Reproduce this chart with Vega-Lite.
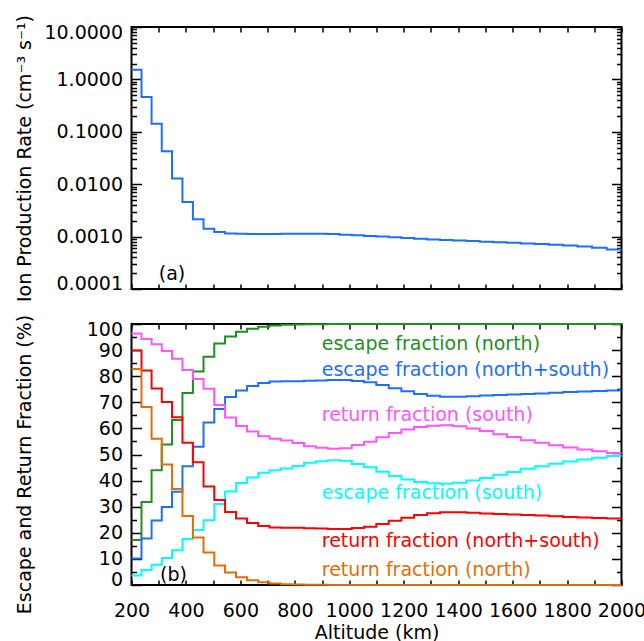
{
  "$schema": "https://vega.github.io/schema/vega-lite/v6.json",
  "padding": {"left": 13.5, "top": 13, "right": 0, "bottom": 0},
  "spacing": 10,
  "datasets": {
    "bins": [
      {"x": 200, "ion": 1.53, "en": 17.2, "ens": 10.2, "rs": 96.4, "es": 3.6, "rns": 89.8, "rn": 82.8},
      {"x": 236.7, "ion": 0.461, "en": 31.8, "ens": 17.8, "rs": 94.3, "es": 5.7, "rns": 82.2, "rn": 68.2},
      {"x": 273.7, "ion": 0.143, "en": 44.0, "ens": 24.7, "rs": 92.2, "es": 7.8, "rns": 75.3, "rn": 56.0},
      {"x": 311.1, "ion": 0.0424, "en": 53.8, "ens": 29.9, "rs": 89.7, "es": 10.3, "rns": 70.1, "rn": 46.2},
      {"x": 348.9, "ion": 0.0128, "en": 63.2, "ens": 35.7, "rs": 86.7, "es": 13.3, "rns": 64.3, "rn": 36.8},
      {"x": 387.1, "ion": 0.00457, "en": 73.6, "ens": 45.5, "rs": 82.4, "es": 17.6, "rns": 54.5, "rn": 26.4},
      {"x": 425.6, "ion": 0.00214, "en": 81.8, "ens": 53.0, "rs": 78.9, "es": 21.1, "rns": 47.0, "rn": 18.2},
      {"x": 464.6, "ion": 0.00141, "en": 87.5, "ens": 62.3, "rs": 75.2, "es": 24.8, "rns": 37.7, "rn": 12.5},
      {"x": 504.0, "ion": 0.00123, "en": 92.5, "ens": 67.4, "rs": 69.0, "es": 31.0, "rns": 32.6, "rn": 7.5},
      {"x": 543.7, "ion": 0.00115, "en": 95.2, "ens": 72.0, "rs": 64.2, "es": 35.8, "rns": 28.0, "rn": 4.8},
      {"x": 583.9, "ion": 0.00113, "en": 97.0, "ens": 74.5, "rs": 60.9, "es": 39.1, "rns": 25.5, "rn": 3.0},
      {"x": 624.5, "ion": 0.00112, "en": 98.2, "ens": 76.2, "rs": 58.8, "es": 41.2, "rns": 23.8, "rn": 1.8},
      {"x": 665.5, "ion": 0.00112, "en": 98.9, "ens": 77.4, "rs": 57.0, "es": 43.0, "rns": 22.6, "rn": 1.1},
      {"x": 706.9, "ion": 0.00112, "en": 99.4, "ens": 78.0, "rs": 56.0, "es": 44.0, "rns": 22.0, "rn": 0.6},
      {"x": 748.7, "ion": 0.00113, "en": 99.7, "ens": 78.1, "rs": 55.4, "es": 44.6, "rns": 21.9, "rn": 0.3},
      {"x": 791.0, "ion": 0.00113, "en": 99.8, "ens": 78.1, "rs": 54.4, "es": 45.6, "rns": 21.9, "rn": 0.2},
      {"x": 833.7, "ion": 0.00113, "en": 99.9, "ens": 78.3, "rs": 53.2, "es": 46.8, "rns": 21.7, "rn": 0.1},
      {"x": 876.8, "ion": 0.00113, "en": 99.9, "ens": 78.4, "rs": 52.6, "es": 47.4, "rns": 21.6, "rn": 0.1},
      {"x": 920.4, "ion": 0.00112, "en": 100, "ens": 78.5, "rs": 52.2, "es": 47.8, "rns": 21.5, "rn": 0},
      {"x": 964.4, "ion": 0.00109, "en": 100, "ens": 78.5, "rs": 52.4, "es": 47.6, "rns": 21.5, "rn": 0},
      {"x": 1008.9, "ion": 0.00106, "en": 100, "ens": 78.2, "rs": 53.6, "es": 46.4, "rns": 21.8, "rn": 0},
      {"x": 1053.8, "ion": 0.00103, "en": 100, "ens": 77.7, "rs": 54.9, "es": 45.1, "rns": 22.3, "rn": 0},
      {"x": 1099.2, "ion": 0.00100, "en": 100, "ens": 76.6, "rs": 56.6, "es": 43.4, "rns": 23.4, "rn": 0},
      {"x": 1145.0, "ion": 0.00097, "en": 100, "ens": 75.4, "rs": 58.2, "es": 41.8, "rns": 24.6, "rn": 0},
      {"x": 1191.3, "ion": 0.00094, "en": 100, "ens": 74.2, "rs": 59.6, "es": 40.4, "rns": 25.8, "rn": 0},
      {"x": 1238.1, "ion": 0.00091, "en": 100, "ens": 73.2, "rs": 60.5, "es": 39.5, "rns": 26.8, "rn": 0},
      {"x": 1285.4, "ion": 0.00088, "en": 100, "ens": 72.5, "rs": 61.0, "es": 39.0, "rns": 27.5, "rn": 0},
      {"x": 1333.1, "ion": 0.00086, "en": 100, "ens": 72.1, "rs": 61.2, "es": 38.8, "rns": 27.9, "rn": 0},
      {"x": 1381.4, "ion": 0.00084, "en": 100, "ens": 72.1, "rs": 60.8, "es": 39.2, "rns": 27.9, "rn": 0},
      {"x": 1430.1, "ion": 0.00082, "en": 100, "ens": 72.3, "rs": 60.0, "es": 40.0, "rns": 27.7, "rn": 0},
      {"x": 1479.3, "ion": 0.00080, "en": 100, "ens": 72.6, "rs": 59.0, "es": 41.0, "rns": 27.4, "rn": 0},
      {"x": 1529.0, "ion": 0.00078, "en": 100, "ens": 72.8, "rs": 57.8, "es": 42.2, "rns": 27.2, "rn": 0},
      {"x": 1579.3, "ion": 0.00076, "en": 100, "ens": 73.0, "rs": 56.7, "es": 43.3, "rns": 27.0, "rn": 0},
      {"x": 1630.0, "ion": 0.00074, "en": 100, "ens": 73.2, "rs": 55.5, "es": 44.5, "rns": 26.8, "rn": 0},
      {"x": 1681.3, "ion": 0.00072, "en": 100, "ens": 73.4, "rs": 54.5, "es": 45.5, "rns": 26.6, "rn": 0},
      {"x": 1733.1, "ion": 0.00070, "en": 100, "ens": 73.7, "rs": 53.5, "es": 46.5, "rns": 26.3, "rn": 0},
      {"x": 1785.4, "ion": 0.00068, "en": 100, "ens": 73.9, "rs": 52.7, "es": 47.3, "rns": 26.1, "rn": 0},
      {"x": 1838.2, "ion": 0.00065, "en": 100, "ens": 74.1, "rs": 51.9, "es": 48.1, "rns": 25.9, "rn": 0},
      {"x": 1891.6, "ion": 0.00061, "en": 100, "ens": 74.3, "rs": 51.2, "es": 48.8, "rns": 25.7, "rn": 0},
      {"x": 1945.5, "ion": 0.00057, "en": 100, "ens": 74.5, "rs": 50.6, "es": 49.4, "rns": 25.5, "rn": 0},
      {"x": 2000, "ion": 0.00057, "en": 100, "ens": 74.5, "rs": 50.6, "es": 49.4, "rns": 25.5, "rn": 0}
    ],
    "notes": [
      {"tx": 899, "ty": 92.4, "s": "en", "t": "escape fraction (north)"},
      {"tx": 899, "ty": 82.2, "s": "ens", "t": "escape fraction (north+south)"},
      {"tx": 899, "ty": 65.3, "s": "rs", "t": "return fraction (south)"},
      {"tx": 899, "ty": 35.2, "s": "es", "t": "escape fraction (south)"},
      {"tx": 899, "ty": 17.0, "s": "rns", "t": "return fraction (north+south)"},
      {"tx": 899, "ty": 5.8, "s": "rn", "t": "return fraction (north)"}
    ],
    "panelA": [{"tx": 300, "ty": 0.000196, "t": "(a)"}],
    "panelB": [{"tx": 305, "ty": 3.8, "t": "(b)"}]
  },
  "resolve": {"scale": {"x": "independent", "y": "independent", "color": "independent"}},
  "vconcat": [
    {
      "width": 490,
      "height": 262,
      "data": {"name": "bins"},
      "resolve": {"axis": {"x": "independent", "y": "independent"}},
      "layer": [
        {
          "mark": {"type": "line", "interpolate": "step-after", "color": "#1e6eff", "strokeWidth": 2},
          "encoding": {
            "x": {"field": "x", "type": "quantitative", "scale": {"domain": [200, 2000], "nice": false, "zero": false}, "axis": null},
            "y": {"field": "ion", "type": "quantitative", "scale": {"type": "log", "domain": [0.0001, 10], "nice": false},
              "axis": {"orient": "left", "values": [0.0001, 0.001, 0.01, 0.1, 1, 10], "format": ".4f", "labelPadding": 9, "ticks": false, "tickSize": 0, "labelFlush": true, "labelFlushOffset": 4,
                "title": "Ion Production Rate (cm⁻³ s⁻¹)", "titleX": -107, "titleY": 131, "titleBaseline": "middle", "titleAngle": -90}}
          }
        },
        {
          "mark": {"type": "point", "opacity": 0},
          "encoding": {
            "x": {"field": "x", "type": "quantitative", "axis": {"orient": "bottom", "values": [200,300,400,500,600,700,800,900,1000,1100,1200,1300,1400,1500,1600,1700,1800,1900,2000], "labels": false, "tickSize": -5, "title": null}},
            "y": {"field": "ion", "type": "quantitative", "axis": {"orient": "left", "values": [0.0001, 0.001, 0.01, 0.1, 1, 10], "labels": false, "tickSize": -10, "title": null}}
          }
        },
        {
          "mark": {"type": "point", "opacity": 0},
          "encoding": {
            "x": {"field": "x", "type": "quantitative", "axis": {"orient": "top", "values": [200,300,400,500,600,700,800,900,1000,1100,1200,1300,1400,1500,1600,1700,1800,1900,2000], "labels": false, "tickSize": -5, "title": null}},
            "y": {"field": "ion", "type": "quantitative", "axis": {"orient": "left", "values": [0.0002,0.0003,0.0004,0.0005,0.0006,0.0007,0.0008,0.0009,0.002,0.003,0.004,0.005,0.006,0.007,0.008,0.009,0.02,0.03,0.04,0.05,0.06,0.07,0.08,0.09,0.2,0.3,0.4,0.5,0.6,0.7,0.8,0.9,2,3,4,5,6,7,8,9], "labels": false, "tickSize": -5, "title": null}}
          }
        },
        {
          "mark": {"type": "point", "opacity": 0},
          "encoding": {
            "x": {"field": "x", "type": "quantitative", "axis": null},
            "y": {"field": "ion", "type": "quantitative", "axis": {"orient": "right", "values": [0.0001, 0.001, 0.01, 0.1, 1, 10], "labels": false, "tickSize": -10, "title": null}}
          }
        },
        {
          "mark": {"type": "point", "opacity": 0},
          "encoding": {
            "x": {"field": "x", "type": "quantitative", "axis": null},
            "y": {"field": "ion", "type": "quantitative", "axis": {"orient": "right", "values": [0.0002,0.0003,0.0004,0.0005,0.0006,0.0007,0.0008,0.0009,0.002,0.003,0.004,0.005,0.006,0.007,0.008,0.009,0.02,0.03,0.04,0.05,0.06,0.07,0.08,0.09,0.2,0.3,0.4,0.5,0.6,0.7,0.8,0.9,2,3,4,5,6,7,8,9], "labels": false, "tickSize": -5, "title": null}}
          }
        },
        {
          "data": {"name": "panelA"},
          "mark": {"type": "text", "align": "left", "baseline": "middle", "fontSize": 19, "color": "black"},
          "encoding": {
            "x": {"field": "tx", "type": "quantitative", "axis": null},
            "y": {"field": "ty", "type": "quantitative", "axis": null},
            "text": {"field": "t"}
          }
        }
      ]
    },
    {
      "width": 490,
      "height": 261,
      "data": {"name": "bins"},
      "resolve": {"axis": {"x": "independent", "y": "independent"}},
      "layer": [
        {
          "transform": [{"fold": ["en", "ens", "rs", "es", "rns", "rn"], "as": ["s", "v"]}],
          "mark": {"type": "line", "interpolate": "step-after", "strokeWidth": 2},
          "encoding": {
            "x": {"field": "x", "type": "quantitative", "scale": {"domain": [200, 2000], "nice": false, "zero": false},
              "axis": {"orient": "bottom", "values": [200,400,600,800,1000,1200,1400,1600,1800,2000], "format": "d", "ticks": false, "tickSize": 0, "labelPadding": 16, "labelFlush": false,
                "title": "Altitude (km)", "titleY": 38}},
            "y": {"field": "v", "type": "quantitative", "scale": {"domain": [0, 100], "nice": false, "zero": false},
              "axis": {"orient": "left", "values": [0,10,20,30,40,50,60,70,80,90,100], "labelPadding": 9, "ticks": false, "tickSize": 0, "labelFlush": true, "labelFlushOffset": 4,
                "title": "Escape and Return Fraction (%)", "titleX": -107, "titleY": 140, "titleBaseline": "middle", "titleAngle": -90}},
            "color": {"field": "s", "type": "nominal", "legend": null,
              "scale": {"domain": ["en", "ens", "rs", "es", "rns", "rn"], "range": ["#1f8f1f", "#1e6eff", "#ff55ff", "#00ffff", "#ff0000", "#e36c0a"]}}
          }
        },
        {
          "mark": {"type": "point", "opacity": 0},
          "encoding": {
            "x": {"field": "x", "type": "quantitative", "axis": {"orient": "bottom", "values": [200,300,400,500,600,700,800,900,1000,1100,1200,1300,1400,1500,1600,1700,1800,1900,2000], "labels": false, "tickSize": -5, "title": null}},
            "y": {"field": "en", "type": "quantitative", "axis": {"orient": "left", "values": [0,10,20,30,40,50,60,70,80,90,100], "labels": false, "tickSize": -10, "title": null}}
          }
        },
        {
          "mark": {"type": "point", "opacity": 0},
          "encoding": {
            "x": {"field": "x", "type": "quantitative", "axis": {"orient": "top", "values": [200,300,400,500,600,700,800,900,1000,1100,1200,1300,1400,1500,1600,1700,1800,1900,2000], "labels": false, "tickSize": -5, "title": null}},
            "y": {"field": "en", "type": "quantitative", "axis": {"orient": "left", "values": [5,15,25,35,45,55,65,75,85,95], "labels": false, "tickSize": -5, "title": null}}
          }
        },
        {
          "mark": {"type": "point", "opacity": 0},
          "encoding": {
            "x": {"field": "x", "type": "quantitative", "axis": null},
            "y": {"field": "en", "type": "quantitative", "axis": {"orient": "right", "values": [0,10,20,30,40,50,60,70,80,90,100], "labels": false, "tickSize": -10, "title": null}}
          }
        },
        {
          "mark": {"type": "point", "opacity": 0},
          "encoding": {
            "x": {"field": "x", "type": "quantitative", "axis": null},
            "y": {"field": "en", "type": "quantitative", "axis": {"orient": "right", "values": [5,15,25,35,45,55,65,75,85,95], "labels": false, "tickSize": -5, "title": null}}
          }
        },
        {
          "data": {"name": "notes"},
          "mark": {"type": "text", "align": "left", "baseline": "middle", "fontSize": 19},
          "encoding": {
            "x": {"field": "tx", "type": "quantitative", "axis": null},
            "y": {"field": "ty", "type": "quantitative", "axis": null},
            "text": {"field": "t"},
            "color": {"field": "s", "type": "nominal", "legend": null,
              "scale": {"domain": ["en", "ens", "rs", "es", "rns", "rn"], "range": ["#1f8f1f", "#1e6eff", "#ff55ff", "#00ffff", "#ff0000", "#e36c0a"]}}
          }
        },
        {
          "data": {"name": "panelB"},
          "mark": {"type": "text", "align": "left", "baseline": "middle", "fontSize": 19, "color": "black"},
          "encoding": {
            "x": {"field": "tx", "type": "quantitative", "axis": null},
            "y": {"field": "ty", "type": "quantitative", "axis": null},
            "text": {"field": "t"}
          }
        }
      ]
    }
  ],
  "config": {
    "view": {"stroke": "black", "strokeWidth": 2},
    "axis": {"grid": false, "domain": false, "labelOverlap": false, "labelFont": "DejaVu Sans", "titleFont": "DejaVu Sans", "labelColor": "black", "titleColor": "black",
      "tickColor": "black", "tickWidth": 1.5, "titleFontWeight": "normal", "labelFontSize": 19, "titleFontSize": 19},
    "text": {"font": "DejaVu Sans"}
  }
}
